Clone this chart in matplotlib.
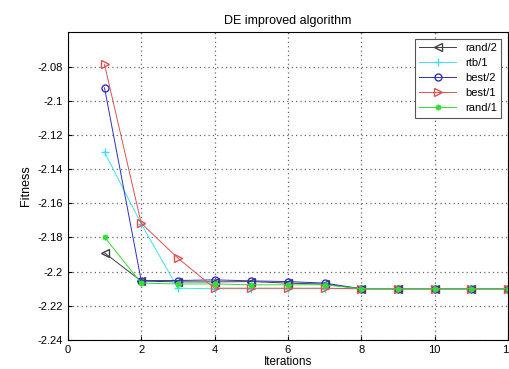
import numpy as np
import matplotlib
matplotlib.use("Agg")
import matplotlib.pyplot as plt

plt.rcParams["font.family"] = ["Liberation Sans", "DejaVu Sans"]
plt.rcParams["axes.unicode_minus"] = False

# 資料
iterations = [1, 2, 3, 4, 5, 6, 7, 8, 9, 10, 11, 12]
rand2 = [-2.189, -2.2055, -2.206, -2.206, -2.2058, -2.2067, -2.2073, -2.21, -2.21, -2.21, -2.21, -2.21]
rtb1 = [-2.130, -2.172, -2.2097, -2.21, -2.21, -2.21, -2.21, -2.21, -2.21, -2.21, -2.21, -2.21]
best2 = [-2.0924, -2.2052, -2.2052, -2.2048, -2.2054, -2.2058, -2.2067, -2.21, -2.21, -2.21, -2.21, -2.21]
best1 = [-2.0787, -2.1716, -2.1921, -2.2097, -2.2097, -2.2097, -2.2097, -2.21, -2.21, -2.21, -2.21, -2.21]
rand1 = [-2.1798, -2.2067, -2.2072, -2.2072, -2.2077, -2.2077, -2.2077, -2.21, -2.21, -2.21, -2.21, -2.21]

fig = plt.figure(figsize=(5.1, 3.69), dpi=100)
ax = fig.add_axes([0.133, 0.0786, 0.863, 0.8344])

ax.plot(iterations, rand2, color="#404040", marker="<", mfc="none", ms=5.5, lw=0.7, label="rand/2")
ax.plot(iterations, rtb1, color="#40e0f0", marker="+", ms=6, lw=0.7, label="rtb/1")
ax.plot(iterations, best2, color="#3030c0", marker="o", mfc="none", ms=5, lw=0.7, label="best/2")
ax.plot(iterations, best1, color="#e05050", marker=">", mfc="none", ms=5.5, lw=0.7, label="best/1")
ax.plot(iterations, rand1, color="#30e030", marker=(6, 2, 0), ms=4, mew=1.2, lw=0.7, label="rand/1")

ax.set_xlim(0, 12)
ax.set_ylim(-2.24, -2.0598)
ax.set_xticks(np.arange(0, 13, 2))
ax.set_yticks(np.round(np.arange(-2.24, -2.079, 0.02), 2))
ax.set_yticklabels(["-2.24", "-2.22", "-2.2", "-2.18", "-2.16", "-2.14", "-2.12", "-2.1", "-2.08"])
ax.tick_params(direction="in", labelsize=8, length=3)
ax.grid(True, linestyle=(0, (1, 2.5)), color="#666666", lw=0.9)

ax.set_title("DE improved algorithm", fontsize=9, pad=6)
ax.set_xlabel("Iterations", fontsize=8.5, labelpad=1)
ax.set_ylabel("Fitness", fontsize=9, labelpad=4)

leg = ax.legend(loc="upper right", fontsize=8, fancybox=False, edgecolor="#555555",
                framealpha=1, borderaxespad=0.6, handlelength=3.3, labelspacing=0.45)
leg.get_frame().set_linewidth(0.8)

fig.savefig("out.png", dpi=100)
